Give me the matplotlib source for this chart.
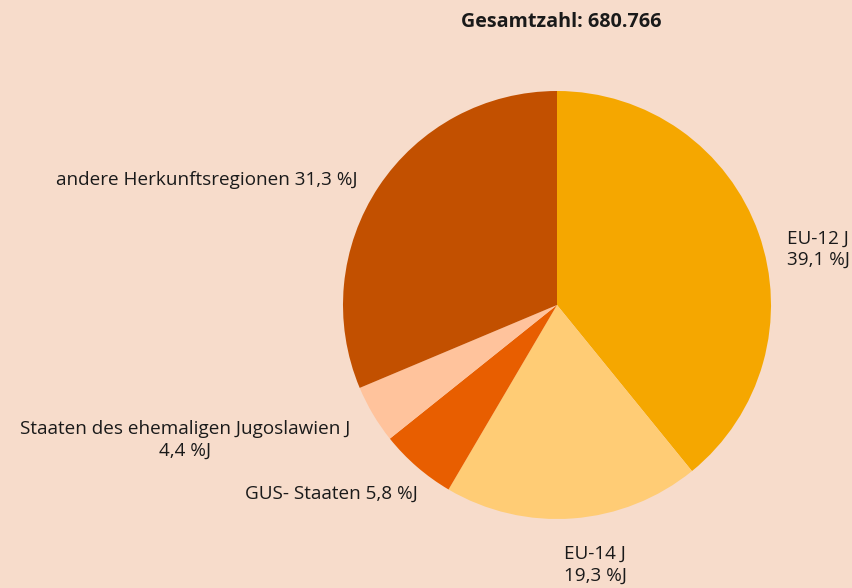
import matplotlib.pyplot as plt

regionen = ["EU-12", "EU-14", "GUS- Staaten", "Staaten des ehemaligen Jugoslawien", "andere Herkunftsregionen"]
anteile = [39.1, 19.3, 5.8, 4.4, 31.3]
farben = ["#F5A700", "#FFCC75", "#E85E00", "#FFC39C", "#C25000"]
beschriftung = ["EU-12 J\n39,1 %J", "EU-14 J\n19,3 %J", "GUS- Staaten 5,8 %J",
                "Staaten des ehemaligen Jugoslawien J\n4,4 %J", "andere Herkunftsregionen 31,3 %J"]
titel = "Gesamtzahl: 680.766"

bg = "#F7DCCB"
plt.rcParams['font.family'] = ['Open Sans', 'DejaVu Sans']

fig = plt.figure(figsize=(8.53, 5.88), dpi=100)
fig.patch.set_facecolor(bg)
ax = fig.add_axes([343/853, 69/588, 428/853, 428/588])
ax.set_facecolor(bg)

ax.pie(anteile, colors=farben, startangle=90, counterclock=False, radius=1,
       wedgeprops=dict(linewidth=0))
ax.set_xlim(-1, 1)
ax.set_ylim(-1, 1)
ax.set_aspect('equal')
ax.axis('off')

fs = 13.6
# label positions in data units (radius 1)
pos = [(1.22, 0.26, 'center'), (0.178, -1.215, 'center'), (-0.65, -0.883, 'right'),
       (-1.738, -0.63, 'center'), (-0.93, 0.584, 'right')]
for txt, (x, y, ha) in zip(beschriftung, pos):
    ax.text(x, y, txt, ha=ha, va='center', fontsize=fs, color='#1a1a1a',
            linespacing=1.25, clip_on=False)

fig.text(561/853, 1 - 22/588, titel, ha='center', va='center', fontsize=14.2,
         fontweight='bold', color='#1a1a1a')

fig.savefig("out.png", dpi=100, facecolor=bg)
